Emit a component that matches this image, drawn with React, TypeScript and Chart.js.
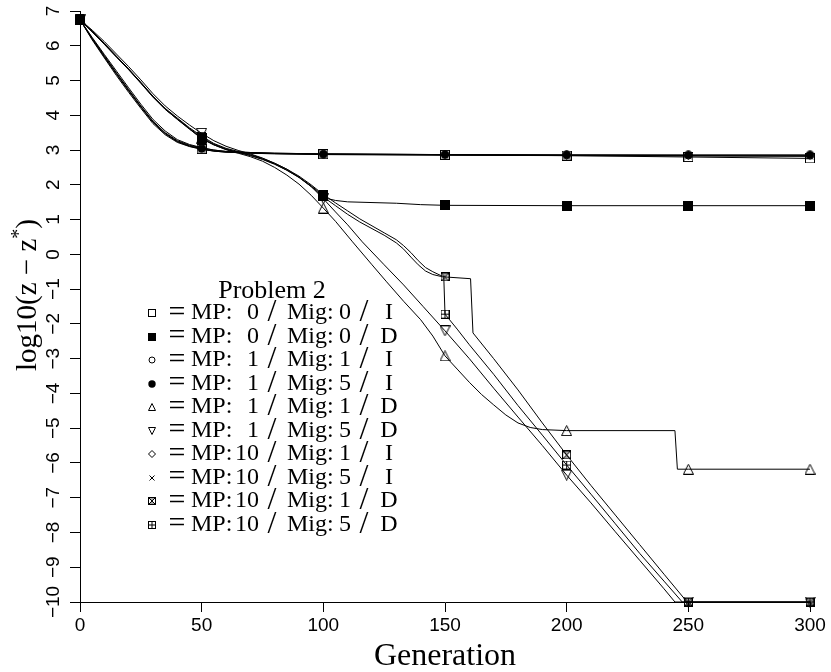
import { useEffect, useRef } from 'react';
import { Chart, registerables } from 'chart.js';

Chart.register(...registerables);

// ---------- axes ----------
const X_TICKS = [0, 50, 100, 150, 200, 250, 300];
const Y_TICKS = [7, 6, 5, 4, 3, 2, 1, 0, -1, -2, -3, -4, -5, -6, -7, -8, -9, -10];
const MARKER_GENS = [0, 50, 100, 150, 200, 250, 300];
const X_TITLE = 'Generation';
const LEGEND_TITLE = 'Problem 2';

// ---------- legend entries ----------
const SERIES_MP = ['0', '0', '1', '1', '1', '1', '10', '10', '10', '10'];
const SERIES_MIG = ['0', '0', '1', '5', '1', '5', '1', '5', '1', '5'];
const SERIES_TYPE = ['I', 'D', 'I', 'I', 'D', 'D', 'I', 'I', 'D', 'D'];
const SERIES_MARKER = ['sq', 'sqf', 'ci', 'cif', 'tu', 'td', 'di', 'x', 'hg', 'pl'];

// ---------- data (generation, log10(z - z*)) ----------
const I_GENS = [0, 5, 10, 15, 20, 25, 30, 35, 40, 45, 50, 55, 60, 70, 80, 100, 150, 200, 250, 300];
const MP0_MIG0_I = [6.75, 6.2, 5.68, 5.18, 4.7, 4.24, 3.8, 3.47, 3.24, 3.11, 3.03, 2.97, 2.94, 2.91, 2.9, 2.88, 2.86, 2.84, 2.8, 2.76];
const MP1_MIG1_I = [6.75, 6.22, 5.72, 5.22, 4.74, 4.27, 3.83, 3.5, 3.27, 3.14, 3.06, 3.0, 2.96, 2.93, 2.91, 2.89, 2.87, 2.86, 2.85, 2.85];
const MP1_MIG5_I = [6.75, 6.19, 5.69, 5.2, 4.72, 4.25, 3.8, 3.48, 3.25, 3.12, 3.04, 2.98, 2.95, 2.92, 2.9, 2.88, 2.87, 2.86, 2.86, 2.86];
const MP10_MIG1_I = [6.75, 6.24, 5.75, 5.27, 4.79, 4.32, 3.88, 3.55, 3.3, 3.16, 3.07, 3.0, 2.96, 2.93, 2.91, 2.89, 2.87, 2.85, 2.84, 2.83];
const MP10_MIG5_I = [6.75, 6.17, 5.65, 5.14, 4.66, 4.2, 3.76, 3.44, 3.22, 3.1, 3.02, 2.97, 2.94, 2.91, 2.89, 2.87, 2.85, 2.84, 2.83, 2.82];

const MP0_MIG0_D_GENS = [0, 5, 10, 15, 20, 25, 30, 35, 40, 45, 50, 55, 60, 65, 70, 75, 80, 85, 90, 95, 100, 102, 105, 110, 120, 130, 140, 150, 200, 250, 300];
const MP0_MIG0_D = [6.75, 6.4, 6.05, 5.68, 5.32, 4.93, 4.53, 4.18, 3.9, 3.62, 3.36, 3.17, 3.03, 2.94, 2.85, 2.74, 2.6, 2.42, 2.22, 1.97, 1.69, 1.6, 1.55, 1.51, 1.49, 1.47, 1.43, 1.41, 1.4, 1.4, 1.4];

const MP1_MIG1_D_GENS = [0, 5, 10, 15, 20, 25, 30, 35, 40, 45, 50, 55, 60, 65, 70, 75, 80, 85, 90, 95, 100, 105, 112, 120, 126, 133, 140, 145, 150, 155, 160, 165, 170, 175, 180, 185, 190, 200, 244.5, 245.5, 250, 300];
const MP1_MIG1_D = [6.75, 6.42, 6.07, 5.7, 5.33, 4.95, 4.55, 4.18, 3.88, 3.6, 3.34, 3.15, 3.01, 2.91, 2.81, 2.68, 2.5, 2.28, 2.02, 1.7, 1.33, 0.95, 0.36, -0.3, -0.79, -1.35, -1.88, -2.35, -2.92, -3.3, -3.68, -4.03, -4.33, -4.62, -4.85, -4.98, -5.04, -5.07, -5.07, -6.18, -6.18, -6.18];

const MP1_MIG5_D_GENS = [0, 5, 10, 15, 20, 25, 30, 35, 40, 45, 50, 55, 60, 65, 70, 75, 80, 85, 90, 95, 100, 105, 110, 116, 125, 133, 141, 150, 160, 170, 180, 190, 200, 210, 220, 230, 240, 244.5, 250, 300];
const MP1_MIG5_D = [6.75, 6.45, 6.12, 5.76, 5.4, 5.02, 4.62, 4.27, 3.98, 3.72, 3.48, 3.27, 3.11, 2.99, 2.89, 2.77, 2.62, 2.45, 2.22, 1.95, 1.6, 1.22, 0.85, 0.36, -0.3, -0.88, -1.5, -2.2, -3.0, -3.85, -4.68, -5.5, -6.35, -7.15, -7.98, -8.8, -9.62, -10, -10, -10];

const MP10_MIG1_D_GENS = [0, 5, 10, 15, 20, 25, 30, 35, 40, 45, 50, 55, 60, 65, 70, 75, 80, 85, 90, 95, 100, 105, 110, 115, 120, 125, 130, 133, 136, 139, 142, 145, 148, 150, 160.5, 161.5, 170, 180, 190, 200, 210, 220, 230, 240, 249.5, 250, 300];
const MP10_MIG1_D = [6.75, 6.41, 6.06, 5.69, 5.33, 4.94, 4.54, 4.2, 3.92, 3.64, 3.4, 3.19, 3.05, 2.96, 2.87, 2.76, 2.62, 2.45, 2.25, 2.0, 1.72, 1.48, 1.25, 1.02, 0.82, 0.62, 0.42, 0.25, 0.05, -0.18, -0.38, -0.5, -0.6, -0.65, -0.7, -2.26, -3.0, -3.9, -4.85, -5.77, -6.65, -7.5, -8.35, -9.2, -10, -10, -10];

const MP10_MIG5_D_GENS = [0, 5, 10, 15, 20, 25, 30, 35, 40, 45, 50, 55, 60, 65, 70, 75, 80, 85, 90, 95, 100, 105, 110, 115, 120, 125, 130, 133, 136, 139, 142, 145, 148, 149.5, 150, 155, 160, 170, 180, 190, 200, 210, 220, 230, 240, 247.5, 250, 300];
const MP10_MIG5_D = [6.75, 6.4, 6.04, 5.67, 5.31, 4.92, 4.52, 4.17, 3.89, 3.61, 3.32, 3.15, 3.02, 2.93, 2.84, 2.73, 2.59, 2.42, 2.21, 1.95, 1.65, 1.4, 1.15, 0.93, 0.74, 0.55, 0.33, 0.15, -0.08, -0.3, -0.48, -0.58, -0.63, -0.66, -1.72, -2.15, -2.6, -3.45, -4.35, -5.2, -6.06, -6.9, -7.75, -8.6, -9.4, -10, -10, -10];

const SERIES_GENS = [I_GENS, MP0_MIG0_D_GENS, I_GENS, I_GENS, MP1_MIG1_D_GENS, MP1_MIG5_D_GENS, I_GENS, I_GENS, MP10_MIG1_D_GENS, MP10_MIG5_D_GENS];
const SERIES_VALUES = [MP0_MIG0_I, MP0_MIG0_D, MP1_MIG1_I, MP1_MIG5_I, MP1_MIG1_D, MP1_MIG5_D, MP10_MIG1_I, MP10_MIG5_I, MP10_MIG1_D, MP10_MIG5_D];

const SERIF = '"Liberation Serif", "DejaVu Serif", serif';
const SANS = '"Liberation Sans", "DejaVu Sans", sans-serif';

function makeMarker(kind: string, n: number): HTMLCanvasElement {
  const c = document.createElement('canvas');
  c.width = n;
  c.height = n;
  const g = c.getContext('2d') as CanvasRenderingContext2D;
  g.strokeStyle = '#000';
  g.fillStyle = '#000';
  g.lineWidth = 1;
  const a = 0.5;
  const b = n - 0.5;
  const m = n / 2;
  const poly = (pts: number[][]) => {
    g.beginPath();
    g.moveTo(pts[0][0], pts[0][1]);
    for (let i = 1; i < pts.length; i++) g.lineTo(pts[i][0], pts[i][1]);
    g.closePath();
    g.stroke();
  };
  switch (kind) {
    case 'sq':
      g.strokeRect(a, a, b - a, b - a);
      break;
    case 'sqf':
      g.fillRect(0, 0, n, n);
      break;
    case 'ci':
      g.beginPath();
      g.arc(m, m, m - 1, 0, Math.PI * 2);
      g.stroke();
      break;
    case 'cif':
      g.beginPath();
      g.arc(m, m, m - 0.3, 0, Math.PI * 2);
      g.fill();
      break;
    case 'tu':
      poly([[m, a], [b, b], [a, b]]);
      break;
    case 'td':
      poly([[a, a], [b, a], [m, b]]);
      break;
    case 'di':
      poly([[m, a], [b, m], [m, b], [a, m]]);
      break;
    case 'x':
      g.beginPath();
      g.moveTo(a + 1, a + 1);
      g.lineTo(b - 1, b - 1);
      g.moveTo(b - 1, a + 1);
      g.lineTo(a + 1, b - 1);
      g.stroke();
      break;
    case 'hg':
      g.strokeRect(a, a, b - a, b - a);
      g.beginPath();
      g.moveTo(a, a);
      g.lineTo(b, b);
      g.moveTo(b, a);
      g.lineTo(a, b);
      g.stroke();
      g.globalAlpha = 0.35;
      g.beginPath();
      g.moveTo(a, a);
      g.lineTo(b, a);
      g.lineTo(m, m);
      g.closePath();
      g.fill();
      g.beginPath();
      g.moveTo(a, b);
      g.lineTo(b, b);
      g.lineTo(m, m);
      g.closePath();
      g.fill();
      g.globalAlpha = 1;
      break;
    case 'pl':
      g.strokeRect(a, a, b - a, b - a);
      g.beginPath();
      g.moveTo(m, a);
      g.lineTo(m, b);
      g.moveTo(a, m);
      g.lineTo(b, m);
      g.stroke();
      break;
  }
  return c;
}

function fmtNum(v: number): string {
  return v < 0 ? '\u2212' + String(-v) : String(v);
}

export default function App() {
  const ref = useRef<HTMLCanvasElement | null>(null);

  useEffect(() => {
    if (!ref.current) return;
    const chartMarkers = SERIES_MARKER.map((k) =>
      makeMarker(k, k === 'tu' || k === 'td' ? 11 : k === 'sqf' || k === 'sq' ? 10 : 9)
    );
    const legendMarkers = SERIES_MARKER.map((k) => makeMarker(k, 8));

    const datasets = SERIES_VALUES.map((vals, i) => ({
      label: `MP: ${SERIES_MP[i]} / Mig: ${SERIES_MIG[i]} / ${SERIES_TYPE[i]}`,
      data: SERIES_GENS[i].map((g, j) => ({ x: g, y: vals[j] })),
      borderColor: '#000',
      backgroundColor: 'rgba(0,0,0,0)',
      borderWidth: 1,
      fill: false,
      tension: 0,
      order: SERIES_VALUES.length - i,
      pointStyle: chartMarkers[i],
      pointRadius: (c: any) => (c.raw && MARKER_GENS.includes(c.raw.x) ? 5 : 0),
      pointHoverRadius: 0,
      clip: false,
    }));

    const overlay = {
      id: 'overlay',
      afterDraw(chart: any) {
        const ctx: CanvasRenderingContext2D = chart.ctx;
        const ys = chart.scales.y;
        ctx.save();
        ctx.fillStyle = '#000';
        // y tick labels (rotated)
        ctx.font = `19px ${SANS}`;
        ctx.textAlign = 'center';
        ctx.textBaseline = 'middle';
        for (const v of Y_TICKS) {
          ctx.save();
          ctx.translate(54, ys.getPixelForValue(v));
          ctx.rotate(-Math.PI / 2);
          ctx.fillText(fmtNum(v), 0, 0);
          ctx.restore();
        }
        // y title with superscript star
        ctx.save();
        ctx.translate(26, 295);
        ctx.rotate(-Math.PI / 2);
        const mainFont = `29px ${SERIF}`;
        const starFont = `20px ${SERIF}`;
        const p1 = 'log10(z \u2212 z';
        const p3 = ')';
        ctx.font = mainFont;
        const w1 = ctx.measureText(p1).width;
        const w3 = ctx.measureText(p3).width;
        ctx.font = starFont;
        const w2 = ctx.measureText('*').width;
        const total = w1 + w2 + w3;
        ctx.textAlign = 'left';
        ctx.textBaseline = 'alphabetic';
        let x0 = -total / 2;
        ctx.font = mainFont;
        ctx.fillText(p1, x0, 10);
        x0 += w1;
        ctx.font = starFont;
        ctx.fillText('*', x0, -1);
        x0 += w2;
        ctx.font = mainFont;
        ctx.fillText(p3, x0, 10);
        ctx.restore();

        // legend
        ctx.font = `26px ${SERIF}`;
        ctx.textBaseline = 'middle';
        ctx.textAlign = 'center';
        ctx.fillText(LEGEND_TITLE, 272, 291);
        for (let i = 0; i < SERIES_MARKER.length; i++) {
          const y = 313 + i * 23.5;
          const mk = legendMarkers[i];
          ctx.drawImage(mk, Math.round(152 - mk.width / 2), Math.round(y - mk.height / 2));
          ctx.font = `30px ${SERIF}`;
          ctx.textAlign = 'center';
          ctx.fillText('=', 177, y);
          ctx.font = `24px ${SERIF}`;
          ctx.textAlign = 'left';
          ctx.fillText('MP:', 191, y);
          ctx.textAlign = 'right';
          ctx.fillText(SERIES_MP[i], 259, y);
          ctx.textAlign = 'left';
          ctx.fillText('Mig:', 287, y);
          ctx.textAlign = 'center';
          ctx.fillText(SERIES_MIG[i], 345, y);
          ctx.fillText(SERIES_TYPE[i], 389, y);
          ctx.font = `32px ${SERIF}`;
          ctx.fillText('/', 272, y);
          ctx.fillText('/', 364, y);
        }
        ctx.restore();
      },
    };

    const chart = new Chart(ref.current, {
      type: 'line',
      data: { datasets: datasets as any },
      options: {
        animation: false,
        responsive: true,
        maintainAspectRatio: false,
        events: [],
        layout: { padding: { top: 11, right: 21, left: 0, bottom: 0 } },
        plugins: { legend: { display: false }, tooltip: { enabled: false } },
        scales: {
          x: {
            type: 'linear',
            min: 0,
            max: 300,
            afterFit: (s: any) => {
              s.height = 70;
            },
            afterBuildTicks: (s: any) => {
              s.ticks = X_TICKS.map((v) => ({ value: v }));
            },
            ticks: {
              color: '#000',
              font: { family: SANS, size: 19 },
              maxRotation: 0,
              autoSkip: false,
              padding: 2,
            },
            grid: { drawOnChartArea: false, drawTicks: true, tickLength: 10, color: '#000' },
            border: { display: true, color: '#000', width: 1 },
            title: {
              display: true,
              text: X_TITLE,
              color: '#000',
              font: { family: SERIF, size: 32 },
              padding: { top: 0, bottom: -4 },
            },
          },
          y: {
            type: 'linear',
            min: -10,
            max: 7,
            afterFit: (s: any) => {
              s.width = 80;
            },
            afterBuildTicks: (s: any) => {
              s.ticks = Y_TICKS.map((v) => ({ value: v }));
            },
            ticks: { display: false },
            grid: { drawOnChartArea: false, drawTicks: true, tickLength: 10, color: '#000' },
            border: { display: true, color: '#000', width: 1 },
          },
        },
      },
      plugins: [overlay],
    });
    return () => chart.destroy();
  }, []);

  return (
    <div style={{ position: 'fixed', left: 0, top: 0, width: 831, height: 672, background: '#fff' }}>
      <canvas ref={ref} />
    </div>
  );
}
